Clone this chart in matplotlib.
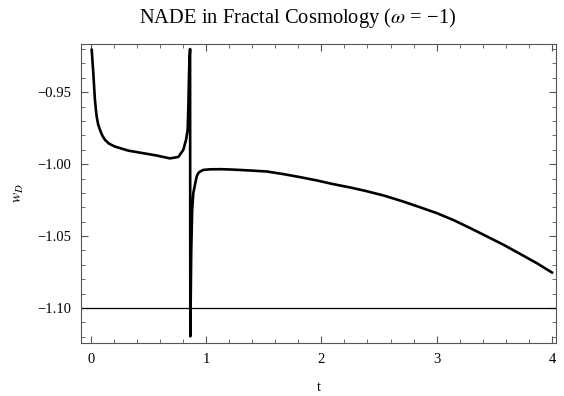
import numpy as np
import matplotlib.pyplot as plt
from matplotlib.ticker import MultipleLocator

plt.rcParams['font.family'] = ['Liberation Serif', 'DejaVu Serif']
plt.rcParams['mathtext.fontset'] = 'stix'

# w_D(t); the curve runs straight through the pole near t = 0.863
t = [0.009, 0.016, 0.023, 0.030, 0.037, 0.045, 0.052, 0.065, 0.081, 0.100, 0.124, 0.160, 0.211,
     0.326, 0.456, 0.572, 0.688, 0.760, 0.803, 0.827, 0.841, 0.847, 0.853, 0.858, 0.862,
     0.864, 0.872, 0.880, 0.890, 0.905, 0.919, 0.933, 0.948, 0.977, 1.035,
     1.130, 1.237, 1.380, 1.526, 1.670, 1.815, 1.960, 2.104, 2.250, 2.394,
     2.550, 2.711, 2.850, 3.000, 3.150, 3.290, 3.430, 3.579, 3.720, 3.868, 4.0]
w = [-0.9206, -0.9290, -0.9368, -0.9465, -0.9553, -0.9620, -0.9669, -0.9725, -0.9762, -0.9800, -0.9831, -0.9858, -0.9878,
     -0.9906, -0.9924, -0.9940, -0.9960, -0.9950, -0.9901, -0.9831, -0.9762, -0.9600, -0.9370, -0.9250, -0.9200,
     -1.1197, -1.0600, -1.0320, -1.0201, -1.0140, -1.0086, -1.0063, -1.0052, -1.0040, -1.0036,
     -1.0035, -1.0038, -1.0044, -1.0051, -1.0069, -1.0090, -1.0113, -1.0139, -1.0162, -1.0188,
     -1.0220, -1.0260, -1.0298, -1.0340, -1.0390, -1.0444, -1.0500, -1.0560, -1.0622, -1.0688, -1.0753]

w_ref = -1.10

fig = plt.figure(figsize=(5.64, 3.96), dpi=100)
ax = fig.add_axes([0.1436, 0.1338, 0.8422, 0.7551])

ax.axhline(w_ref, color='black', lw=0.9)
ax.plot(t, w, color='black', lw=1.9, solid_joinstyle='round')

ax.set_xlim(-0.084, 4.035)
ax.set_ylim(-1.1243, -0.9165)
ax.set_xticks([0, 1, 2, 3, 4])
ax.set_yticks([-0.95, -1.00, -1.05, -1.10])
ax.set_yticklabels(['\u22120.95', '\u22121.00', '\u22121.05', '\u22121.10'])
ax.xaxis.set_minor_locator(MultipleLocator(0.2))
ax.yaxis.set_minor_locator(MultipleLocator(0.01))
ax.tick_params(which='both', direction='in', top=True, right=True, labelsize=10.5, color='#555555')
ax.tick_params(which='major', length=5, width=0.8, pad=7)
ax.tick_params(which='minor', length=3, width=0.6)
for s in ax.spines.values():
    s.set_color('#555555')

fig.text(0.5275, 0.954, 'NADE in Fractal Cosmology ($\\omega$ = \u22121)', fontsize=14.8,
         ha='center', va='center')
ax.set_xlabel('t', fontsize=10.5, labelpad=11)
ax.set_ylabel('$w_D$', fontsize=11, labelpad=8)

fig.savefig('out.png', dpi=100)
